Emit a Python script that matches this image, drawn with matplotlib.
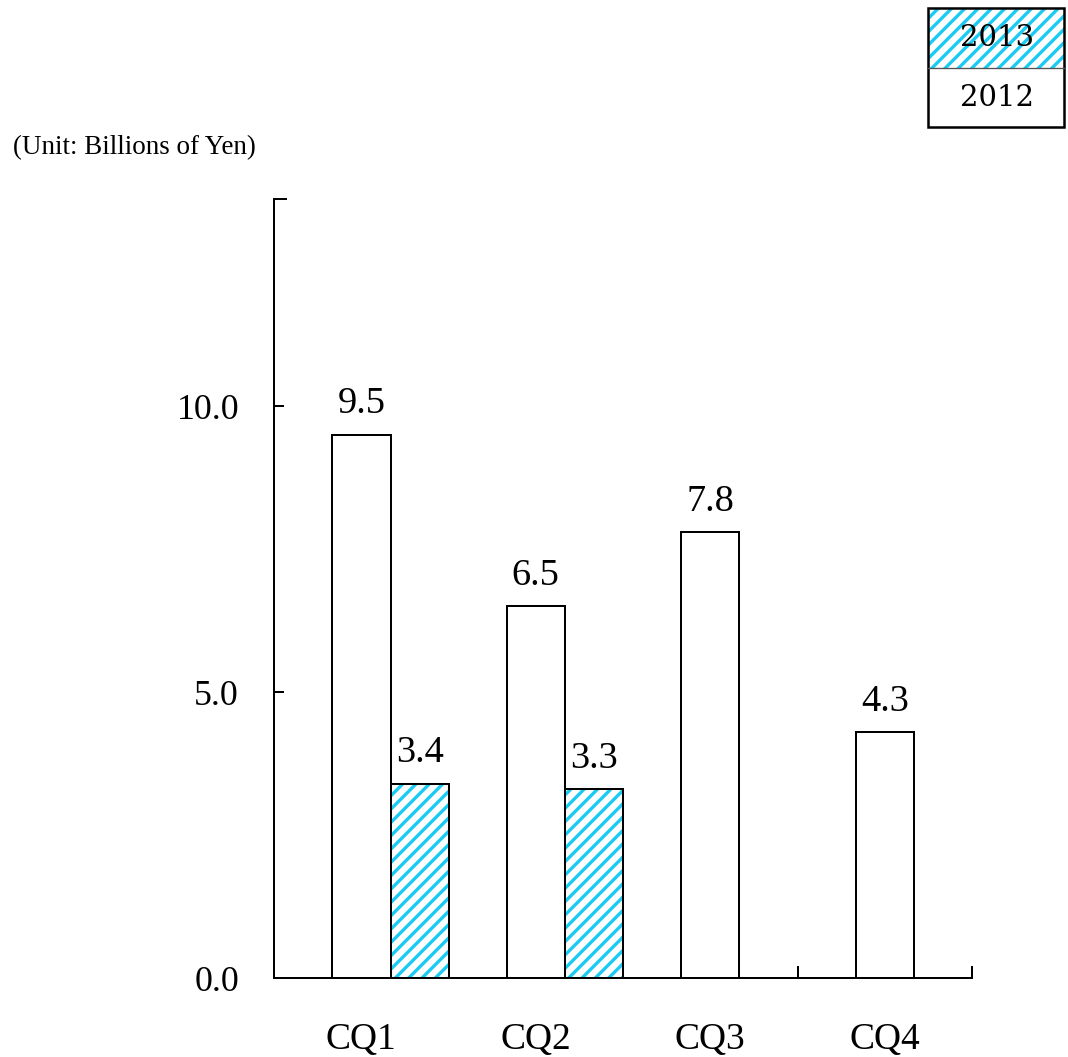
import numpy as np
import matplotlib
matplotlib.use("Agg")
import matplotlib.pyplot as plt
from matplotlib.patches import Rectangle

# Quarterly figures (billions of yen)
categories = ["CQ1", "CQ2", "CQ3", "CQ4"]
series_names = ["2013", "2012"]
values_2012 = [9.5, 6.5, 7.8, 4.3]
values_2013 = [3.4, 3.3]
y_ticks = [0.0, 5.0, 10.0]
y_top = 13.62

DPI = 120
plt.rcParams["hatch.linewidth"] = 2.0
serif = ["Liberation Serif", "DejaVu Serif"]
CYAN = "#1CCBF2"
HATCH = "///"

fig = plt.figure(figsize=(1068 / DPI, 1057 / DPI), dpi=DPI)
ax = fig.add_axes([0.2566, 0.0747, 0.6535, 0.737])

x = np.arange(len(categories))
w = 0.335

# 2012: plain white bars centred on each quarter
ax.bar(x, values_2012, width=w, color="white", edgecolor="black",
       linewidth=1.2, zorder=3)

# 2013: cyan striped bars to the right of the 2012 bars
x13 = x[:len(values_2013)] + w
ax.bar(x13, values_2013, width=w, color="white", edgecolor=CYAN,
       hatch=HATCH, linewidth=0, zorder=3)
ax.bar(x13, values_2013, width=w, fill=False, edgecolor="black",
       linewidth=1.2, zorder=4)

# value labels
for xi, v in zip(list(x) + list(x13), values_2012 + values_2013):
    ax.annotate(f"{v:.1f}", (xi, v), xytext=(0, 8), textcoords="offset points",
                ha="center", va="bottom", fontsize=23, family=serif)

ax.set_xlim(-0.5, len(categories) - 0.5)
ax.set_ylim(0, y_top)

for s in ["top", "right"]:
    ax.spines[s].set_visible(False)
for s in ["left", "bottom"]:
    ax.spines[s].set_linewidth(1.2)

ax.set_yticks(y_ticks)
ax.set_yticklabels([f"{t:.1f}" for t in y_ticks], family=serif, fontsize=21.5)
ax.set_yticks([y_top], minor=True)
ax.tick_params(axis="y", which="major", direction="in", length=6, width=1.2, pad=21)
ax.tick_params(axis="y", which="minor", direction="in", length=8, width=1.2)

ax.set_xticks(x)
ax.set_xticklabels(categories, family=serif, fontsize=22.5)
ax.set_xticks(np.arange(-0.5, len(categories)), minor=True)
ax.tick_params(axis="x", which="major", length=0, pad=26.5)
ax.tick_params(axis="x", which="minor", direction="in", length=7.2, width=1.2)

fig.text(0.0122, 1 - 135 / 1057, "(Unit: Billions of Yen)", ha="left", va="top",
         fontsize=16.2, family=serif)

# legend box: two stacked cells
lx0, lx1 = 928 / 1068, 1064 / 1068
ly_top, ly_mid, ly_bot = 1 - 8 / 1057, 1 - 68 / 1057, 1 - 127 / 1057
fig.patches.append(Rectangle((lx0, ly_mid), lx1 - lx0, ly_top - ly_mid,
                             transform=fig.transFigure, facecolor="white",
                             edgecolor=CYAN, hatch=HATCH, linewidth=0))
fig.patches.append(Rectangle((lx0, ly_bot), lx1 - lx0, ly_mid - ly_bot,
                             transform=fig.transFigure, facecolor="white",
                             edgecolor="none"))
fig.patches.append(Rectangle((lx0, ly_bot), lx1 - lx0, ly_top - ly_bot,
                             transform=fig.transFigure, fill=False,
                             edgecolor="black", linewidth=1.5))
fig.lines.append(plt.Line2D([lx0, lx1], [ly_mid, ly_mid], transform=fig.transFigure,
                            color="#555555", linewidth=0.8))
lcx = 997 / 1068
fig.text(lcx, (ly_top + ly_mid) / 2, series_names[0], ha="center", va="center",
         fontsize=17.5, family=["DejaVu Serif"])
fig.text(lcx, (ly_mid + ly_bot) / 2, series_names[1], ha="center", va="center",
         fontsize=17.5, family=["DejaVu Serif"])

fig.savefig("out.png", dpi=DPI)
